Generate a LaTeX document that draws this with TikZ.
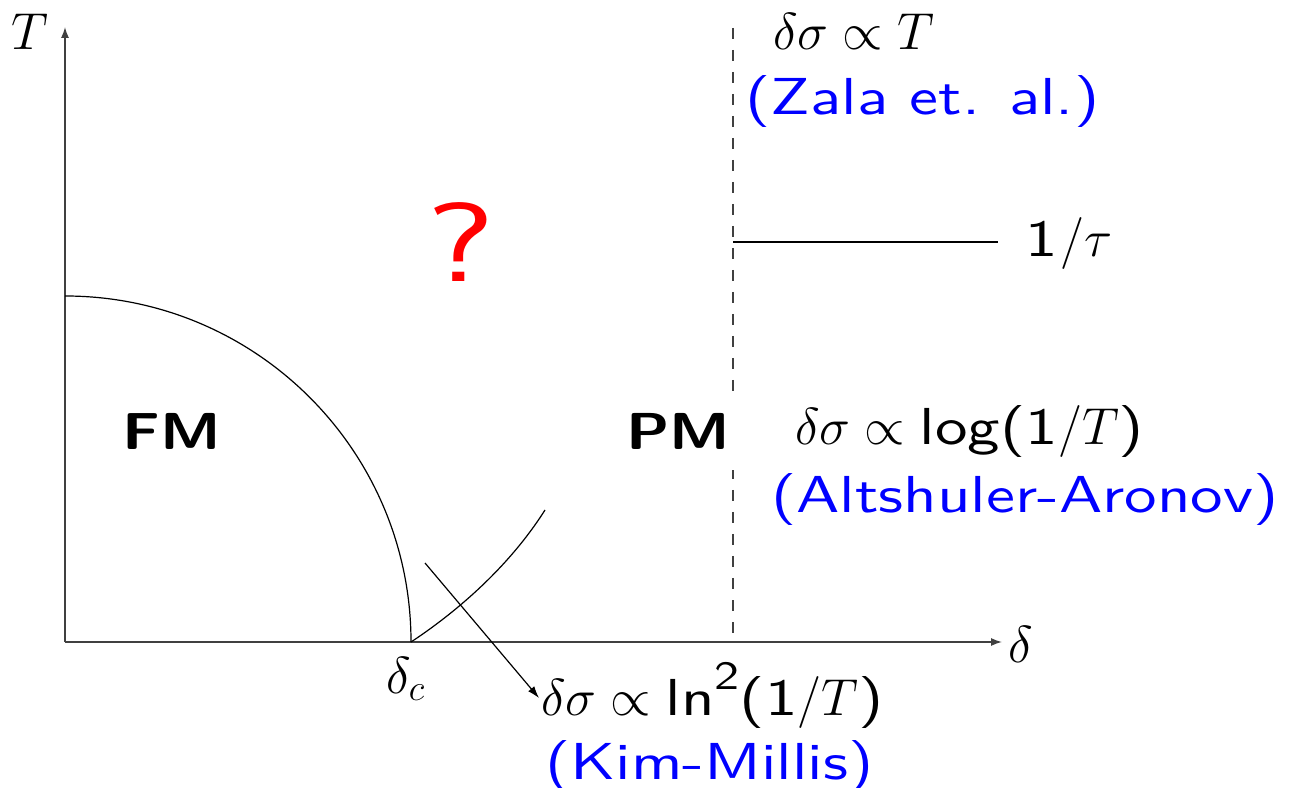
\RequirePackage{fix-cm}
\documentclass[tikz,border=0pt]{standalone}
\usepackage{fontspec}
\usetikzlibrary{arrows.meta}
\newfontfamily\wsf[FakeStretch=1.25]{lmsans10-regular.otf}
\newfontfamily\wsfb[FakeStretch=1.19]{lmsans10-bold.otf}
\newfontfamily\qsf[FakeStretch=1.3]{lmsans10-regular.otf}
\begin{document}
\begin{tikzpicture}[x=1pt,y=1pt,
  lab/.style={inner sep=0pt, anchor=base west, font=\fontsize{52}{60}\selectfont},
  blab/.style={lab, text=blue},
  axis/.style={line width=1.4pt, black!75, -{Latex[length=11pt,width=8pt]}},
  thin/.style={line width=1.2pt, black}]
\useasboundingbox (0,0) rectangle (1289,787);
% coordinates
\coordinate (O) at (65,145);
\coordinate (ytop) at (65,760);
\coordinate (xend) at (1002,145);
\coordinate (arctop) at (65,491);
\coordinate (dc) at (411,145);
\coordinate (curveend) at (545,277);
\coordinate (arrstart) at (425,224);
\coordinate (arrend) at (539,89);
\coordinate (dtop) at (733,759);
\coordinate (dbot) at (733,145);
\coordinate (hl) at (733,545);
\coordinate (hr) at (998,545);
% axes
\draw[axis] (O) -- (ytop);
\draw[axis] (O) -- (xend);
\node[lab] (Tlab) at (11,737) {$T$};
\node[lab] (dlab) at (1008,125) {$\delta$};
% phase boundary
\draw[thin] (arctop) arc[start angle=90, end angle=0, radius=346];
\draw[thin] (dc) .. controls (452,172) and (507,217) .. (curveend);
\draw[thin, -{Latex[length=12pt,width=8pt]}] (arrstart) -- (arrend);
% dashed line
\draw[line width=1.3pt, black!75, dash pattern=on 11pt off 11pt] (dtop) -- (dbot);
\draw[thin] (hl) -- (hr);
% labels
\node[lab] (tau) at (1025,530) {{\wsf 1}\kern3pt$/\tau$};
\node[lab] (zT) at (773,737) {$\delta\sigma\propto T$};
\node[blab] (zala) at (745,672) {\wsf (Zala et. al.)};
\node[lab, text=red, font=\fontsize{112}{120}\selectfont] (q) at (426,505) {\qsf ?};
\node[lab] (FM) at (122,337) {\wsfb FM};
\node[lab, fill=white, inner xsep=12pt, inner ysep=20pt, anchor=base west] (PM) at (614,337) {\wsfb PM};
\node[lab] (aalaw) at (795,342) {$\delta\sigma\propto{}${\wsf log(1}$/T${\wsf )}};
\node[blab] (aa) at (771,274) {\wsf (Altshuler-Aronov)};
\node[lab] (dclab) at (386,94) {$\delta_c$};
\node[lab] (kmlaw) at (541,72) {$\delta\sigma\propto{}${\wsf ln}\raisebox{0.5em}{\fontsize{40}{44}\selectfont\wsf 2}{\wsf (1}$/T${\wsf )}};
\node[blab] (km) at (545,8) {\wsf (Kim-Millis)};
\end{tikzpicture}
\end{document}
